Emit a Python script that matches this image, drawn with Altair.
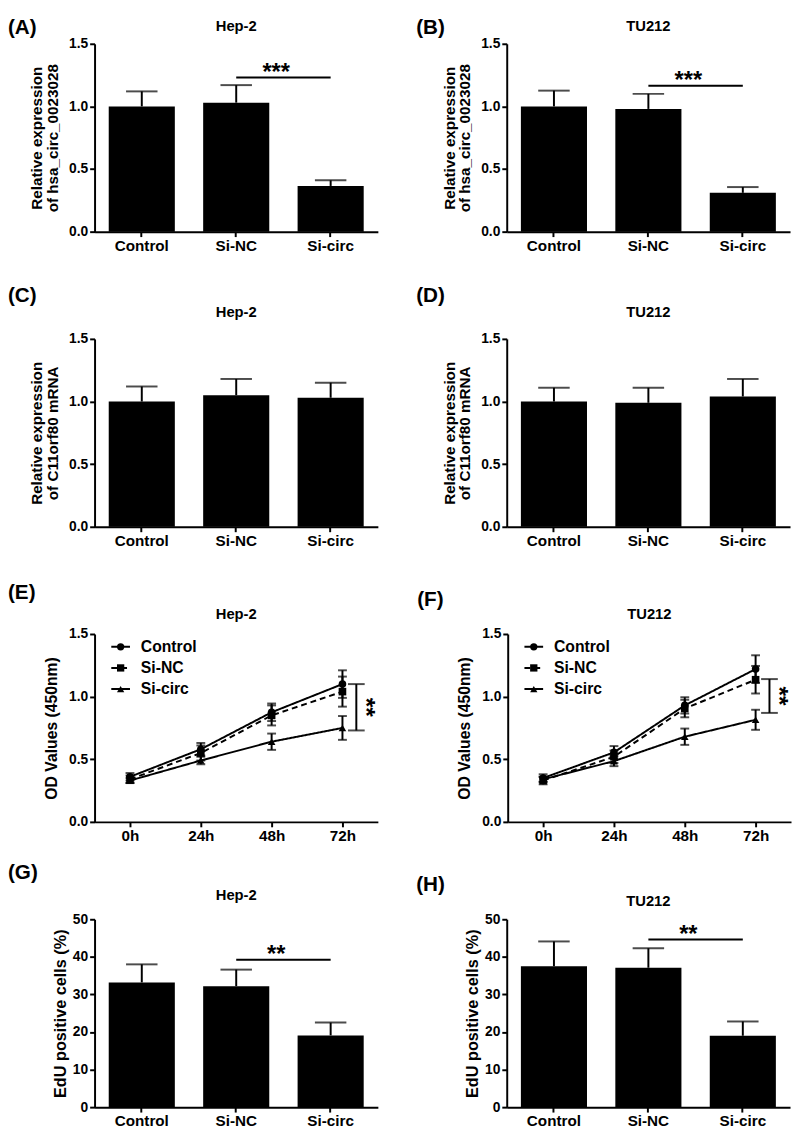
import altair as alt
import pandas as pd

FONT = "Liberation Sans"

# ---------------- data ----------------
groups = ["Control", "Si-NC", "Si-circ"]

# (A) Hep-2, hsa_circ_0023028
a_mean = [1.00, 1.03, 0.365]
a_sem = [0.12, 0.14, 0.045]
a_sig = 1.23
# (B) TU212, hsa_circ_0023028
b_mean = [1.00, 0.98, 0.31]
b_sem = [0.126, 0.12, 0.046]
b_sig = 1.165
# (C) Hep-2, C11orf80 mRNA
c_mean = [1.00, 1.05, 1.03]
c_sem = [0.12, 0.13, 0.12]
# (D) TU212, C11orf80 mRNA
d_mean = [1.00, 0.99, 1.04]
d_sem = [0.11, 0.12, 0.14]
# (G) Hep-2, EdU
g_mean = [33.2, 32.2, 19.1]
g_sem = [4.8, 4.4, 3.4]
g_sig = 39.2
# (H) TU212, EdU
h_mean = [37.5, 37.1, 19.0]
h_sem = [6.6, 5.2, 3.8]
h_sig = 44.6

hours = [0, 24, 48, 72]
hour_labels = ["0h", "24h", "48h", "72h"]
series = ["Control", "Si-NC", "Si-circ"]
# (E) Hep-2 CCK-8
e_control = [0.36, 0.58, 0.875, 1.10]
e_control_sem = [0.03, 0.05, 0.07, 0.11]
e_sinc = [0.34, 0.55, 0.85, 1.04]
e_sinc_sem = [0.03, 0.06, 0.08, 0.12]
e_sicirc = [0.33, 0.49, 0.64, 0.75]
e_sicirc_sem = [0.02, 0.03, 0.065, 0.095]
e_bracket = [0.73, 1.10]
# (F) TU212 CCK-8
f_control = [0.35, 0.555, 0.93, 1.22]
f_control_sem = [0.03, 0.05, 0.065, 0.11]
f_sinc = [0.33, 0.52, 0.905, 1.135]
f_sinc_sem = [0.03, 0.05, 0.07, 0.11]
f_sicirc = [0.34, 0.485, 0.68, 0.815]
f_sicirc_sem = [0.02, 0.04, 0.065, 0.08]
f_bracket = [0.87, 1.14]

# ---------------- layout ----------------
H = 191
BOTTOM = 23
BRACKET_HOUR = 76.7
dummy = pd.DataFrame({"k": [0]})


def deco(letter, title, W, L, T, letter_y, title_y):
    lt = alt.Chart(dummy).mark_text(text=letter, align="left", baseline="top", fontSize=21,
                                    fontWeight="bold", font=FONT, color="black").encode(
        x=alt.value(-L), y=alt.value(letter_y))
    tt = alt.Chart(dummy).mark_text(text=title, align="center", baseline="middle", fontSize=15,
                                    fontWeight="bold", font=FONT, color="black").encode(
        x=alt.value(W / 2), y=alt.value(title_y))
    sp1 = alt.Chart(dummy).mark_rule(opacity=0, strokeOpacity=0, strokeWidth=1).encode(
        x=alt.value(-L), x2=alt.value(W), y=alt.value(-T))
    sp2 = alt.Chart(dummy).mark_rule(opacity=0, strokeOpacity=0, strokeWidth=1).encode(
        x=alt.value(-L), x2=alt.value(W), y=alt.value(H + BOTTOM))
    return [lt, tt, sp1, sp2]


def y_axis(title, values, fmt, pad, tsize):
    return alt.Axis(title=title, values=values, tickCount=len(values), format=fmt,
                    labelFontSize=14, titleFontSize=tsize, titlePadding=pad, titleLineHeight=16,
                    labelFlush=False, labelPadding=2, labelOverlap=False)


def bar_panel(letter, title, means, sems, ytitle, ymax, yvals, yfmt, sig, sig_label,
              W, L, T, letter_y, title_y, tpad, tsize):
    df = pd.DataFrame({"group": groups, "mean": means,
                       "upper": [m + s for m, s in zip(means, sems)]})
    xenc = alt.X("group:N", sort=groups,
                 scale=alt.Scale(paddingInner=0.3, paddingOuter=0.15),
                 axis=alt.Axis(title=None, labelAngle=0, labelFontSize=15.5, labelPadding=2))
    yenc = alt.Y("mean:Q", scale=alt.Scale(domain=[0, ymax], nice=False),
                 axis=y_axis(ytitle, yvals, yfmt, tpad, tsize))
    base = alt.Chart(df)
    bars = base.mark_bar(color="black").encode(x=xenc, y=yenc)
    err = base.mark_rule(color="black", strokeWidth=2).encode(x=xenc, y="mean:Q", y2="upper:Q")
    cap = base.mark_tick(color="black", thickness=2, size=32, orient="horizontal").encode(
        x=xenc, y="upper:Q")
    layers = [bars, err, cap]
    if sig is not None:
        sdf = pd.DataFrame({"start": ["Si-NC"], "end": ["Si-circ"], "level": [sig],
                            "label": [sig_label]})
        srule = alt.Chart(sdf).mark_rule(color="black", strokeWidth=2).encode(
            x=alt.X("start:N", sort=groups), x2="end:N", y="level:Q")
        stext = alt.Chart(sdf).mark_text(dx=7, dy=2, baseline="alphabetic", align="center",
                                         fontSize=24, fontWeight="bold", font=FONT,
                                         color="black").encode(
            x=alt.X("start:N", sort=groups, bandPosition=1), y="level:Q", text="label:N")
        layers += [srule, stext]
    layers += deco(letter, title, W, L, T, letter_y, title_y)
    return alt.layer(*layers).properties(width=W, height=H)


def line_panel(letter, title, data, bracket, W, L, T, letter_y, title_y, tpad, tsize):
    rows = []
    for s, (m, e) in zip(series, data):
        for h, mv, ev in zip(hours, m, e):
            rows.append({"series": s, "hour": h, "mean": mv, "lo": mv - ev, "hi": mv + ev})
    df = pd.DataFrame(rows)
    label_expr = "{" + ",".join(f"'{h}':'{l}'" for h, l in zip(hours, hour_labels)) + "}[datum.value]"
    xenc = alt.X("hour:Q", scale=alt.Scale(domain=[-12, 84], nice=False, zero=False),
                 axis=alt.Axis(values=hours, tickCount=len(hours), labelExpr=label_expr,
                               title=None, labelFontSize=15.5, labelFlush=False, labelPadding=2,
                               labelOverlap=False))
    yenc = alt.Y("mean:Q", scale=alt.Scale(domain=[0, 1.5], nice=False),
                 axis=y_axis("OD Values (450nm)", [0, 0.5, 1.0, 1.5], ".1f", tpad, tsize))
    dash_scale = alt.Scale(domain=series, range=[[1, 0], [6, 4], [1, 0]])
    shape_scale = alt.Scale(domain=series, range=["circle", "square", "triangle-up"])
    base = alt.Chart(df)
    lines = base.mark_line(color="black", strokeWidth=2).encode(
        x=xenc, y=yenc, strokeDash=alt.StrokeDash("series:N", scale=dash_scale, legend=None),
        detail="series:N")
    errs = base.mark_rule(color="black", strokeWidth=2).encode(x="hour:Q", y="lo:Q", y2="hi:Q")
    cap_lo = base.mark_tick(color="black", thickness=2, size=9, orient="horizontal").encode(
        x="hour:Q", y="lo:Q")
    cap_hi = base.mark_tick(color="black", thickness=2, size=9, orient="horizontal").encode(
        x="hour:Q", y="hi:Q")
    pts = base.mark_point(filled=True, color="black", size=60, opacity=1).encode(
        x="hour:Q", y="mean:Q",
        shape=alt.Shape("series:N", scale=shape_scale, legend=None))
    bdf = pd.DataFrame({"hour": [BRACKET_HOUR], "lo": [bracket[0]], "hi": [bracket[1]],
                        "mid": [(bracket[0] + bracket[1]) / 2], "label": ["**"]})
    bb = alt.Chart(bdf)
    brule = bb.mark_rule(color="black", strokeWidth=2).encode(x="hour:Q", y="lo:Q", y2="hi:Q")
    bcap1 = bb.mark_tick(color="black", thickness=2, size=17, orient="horizontal").encode(
        x="hour:Q", y="lo:Q")
    bcap2 = bb.mark_tick(color="black", thickness=2, size=17, orient="horizontal").encode(
        x="hour:Q", y="hi:Q")
    btext = bb.mark_text(angle=90, align="center", baseline="alphabetic", fontSize=25, dy=-2,
                         fontWeight="bold", font=FONT, color="black").encode(
        x="hour:Q", y="mid:Q", text="label:N")
    layers = [lines, errs, cap_lo, cap_hi, pts, brule, bcap1, bcap2, btext]
    # legend
    dashes = [[1, 0], [6, 4], [1, 0]]
    shapes = ["circle", "square", "triangle-up"]
    for i, s in enumerate(series):
        yy = 13 + 21.5 * i
        ld = pd.DataFrame({"series": [s]})
        layers.append(alt.Chart(ld).mark_rule(color="black", strokeWidth=2,
                                              strokeDash=dashes[i]).encode(
            x=alt.value(17), x2=alt.value(36), y=alt.value(yy)))
        layers.append(alt.Chart(ld).mark_point(filled=True, color="black", size=55, opacity=1,
                                               shape=shapes[i]).encode(
            x=alt.value(26.5), y=alt.value(yy)))
        layers.append(alt.Chart(ld).mark_text(align="left", baseline="middle", fontSize=16,
                                              fontWeight="bold", font=FONT,
                                              color="black").encode(
            x=alt.value(47), y=alt.value(yy), text="series:N"))
    layers += deco(letter, title, W, L, T, letter_y, title_y)
    return alt.layer(*layers).properties(width=W, height=H)


W1, W2 = 288, 288
L1, L2 = 88, 92
HSP = 39

rel_circ = ["Relative expression", "of hsa_circ_0023028"]
rel_mrna = ["Relative expression", "of C11orf80 mRNA"]
v15 = [0, 0.5, 1.0, 1.5]
v50 = [0, 10, 20, 30, 40, 50]

pA = bar_panel("(A)", "Hep-2", a_mean, a_sem, rel_circ, 1.5, v15, ".1f", a_sig, "***",
               W1, L1, 27, -27, -18, 8, 15.5)
pB = bar_panel("(B)", "TU212", b_mean, b_sem, rel_circ, 1.5, v15, ".1f", b_sig, "***",
               W2, L2, 27, -27, -18, 8, 15.5)
pC = bar_panel("(C)", "Hep-2", c_mean, c_sem, rel_mrna, 1.5, v15, ".1f", None, "",
               W1, L1, 86, -55, -27, 8, 15.5)
pD = bar_panel("(D)", "TU212", d_mean, d_sem, rel_mrna, 1.5, v15, ".1f", None, "",
               W2, L2, 86, -54, -27, 8, 15.5)
pE = line_panel("(E)", "Hep-2",
                [(e_control, e_control_sem), (e_sinc, e_sinc_sem), (e_sicirc, e_sicirc_sem)],
                e_bracket, W1, L1, 86, -53, -20, 9, 16)
pF = line_panel("(F)", "TU212",
                [(f_control, f_control_sem), (f_sinc, f_sinc_sem), (f_sicirc, f_sicirc_sem)],
                f_bracket, W2, L2, 86, -45, -20, 9, 16)
pG = bar_panel("(G)", "Hep-2", g_mean, g_sem, "EdU positive cells (%)", 50, v50, "d", g_sig, "**",
               W1, L1, 76, -58, -25, 4, 16.5)
pH = bar_panel("(H)", "TU212", h_mean, h_sem, "EdU positive cells (%)", 50, v50, "d", h_sig, "**",
               W2, L2, 76, -46, -18, 4, 16.5)

chart = alt.vconcat(
    alt.hconcat(pA, pB, spacing=HSP),
    alt.hconcat(pC, pD, spacing=HSP),
    alt.hconcat(pE, pF, spacing=HSP),
    alt.hconcat(pG, pH, spacing=HSP),
    spacing=0,
    padding=0,
).configure_view(stroke=None).configure_axis(
    labelFont=FONT, titleFont=FONT, labelColor="black", titleColor="black",
    domainColor="black", tickColor="black", grid=False, domainWidth=2, tickWidth=2,
    tickSize=5, labelFontWeight="bold", titleFontWeight="bold"
)

chart.save("out.html", embed_options={"renderer": "svg", "actions": False})
